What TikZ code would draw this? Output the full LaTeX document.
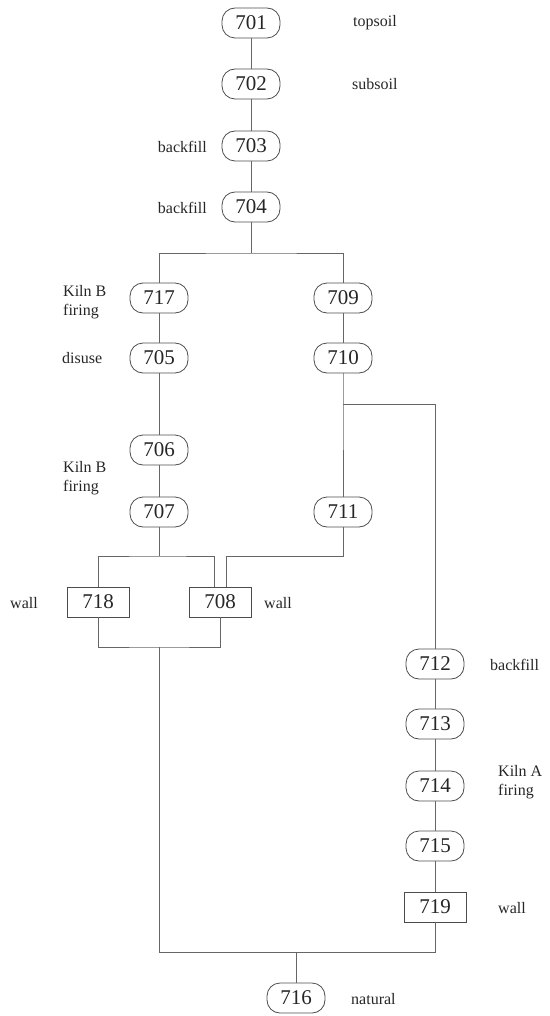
\documentclass[tikz,border=0pt]{standalone}
\usepackage{fontspec}
\setmainfont{Liberation Serif}
\begin{document}
\begin{tikzpicture}[x=1pt,y=-1pt,
  ctx/.style={draw=black!70, line width=0.8pt, rounded corners=13pt, minimum width=58pt, minimum height=30pt, inner sep=0pt, text=black!85, font=\fontsize{21}{24}\selectfont},
  wbox/.style={draw=black!70, line width=0.8pt, minimum width=62pt, minimum height=30pt, inner sep=0pt, text=black!85, font=\fontsize{21}{24}\selectfont},
  lab/.style={inner sep=0pt, text=black!85, align=left, font=\fontsize{16}{19}\selectfont},
  conn/.style={draw=black!60, line width=0.7pt}]
\useasboundingbox (0,0) rectangle (549,1016);
% nodes
\node[ctx] (n701) at (251,23) {701};
\node[ctx] (n702) at (251,84) {702};
\node[ctx] (n703) at (251,146) {703};
\node[ctx] (n704) at (251,207) {704};
\node[ctx] (n717) at (159,298) {717};
\node[ctx] (n709) at (343,298) {709};
\node[ctx] (n705) at (159,358) {705};
\node[ctx] (n710) at (343,358) {710};
\node[ctx] (n706) at (159,450) {706};
\node[ctx] (n707) at (159,512) {707};
\node[ctx] (n711) at (343,512) {711};
\node[wbox] (n718) at (98,602) {718};
\node[wbox] (n708) at (220,602) {708};
\node[ctx] (n712) at (435,664) {712};
\node[ctx] (n713) at (435,724) {713};
\node[ctx] (n714) at (435,786) {714};
\node[ctx] (n715) at (435,846) {715};
\node[wbox] (n719) at (435,907) {719};
\node[ctx] (n716) at (296,998) {716};
% labels
\node[lab, anchor=west] (l701) at (353,23) {topsoil};
\node[lab, anchor=west] (l702) at (352,84) {subsoil};
\node[lab, anchor=east] (l703) at (207,147) {backfill};
\node[lab, anchor=east] (l704) at (207,208) {backfill};
\node[lab, anchor=west] (l717) at (63,302) {Kiln B\\firing};
\node[lab, anchor=west] (l705) at (62,358) {disuse};
\node[lab, anchor=west] (l706) at (63,478) {Kiln B\\firing};
\node[lab, anchor=west] (l718) at (10,603) {wall};
\node[lab, anchor=west] (l708) at (264,603) {wall};
\node[lab, anchor=west] (l712) at (490,665) {backfill};
\node[lab, anchor=west] (l714) at (498,782) {Kiln A\\firing};
\node[lab, anchor=west] (l719) at (498,908) {wall};
\node[lab, anchor=west] (l716) at (351,999) {natural};
% junction coordinates
\coordinate (b1) at (251,253);
\coordinate (b2) at (343,404);
\coordinate (b3) at (159,556);
\coordinate (b4) at (343,556);
\coordinate (b5) at (159,647);
\coordinate (b6) at (296,952);
% connectors
\draw[conn] (n701) -- (n702);
\draw[conn] (n702) -- (n703);
\draw[conn] (n703) -- (n704);
\draw[conn] (n704) -- (b1);
\draw[conn] (n717.north) |- (b1) -| (n709.north);
\draw[conn] (n717) -- (n705);
\draw[conn] (n705) -- (n706);
\draw[conn] (n706) -- (n707);
\draw[conn] (n709) -- (n710);
\draw[conn] (n710) -- (b2) -- (n711);
\draw[conn] (b2) -| (n712.north);
\draw[conn] (n707) -- (b3);
\draw[conn] (n718.north) |- (b3) -| ([xshift=-6pt]n708.north);
\draw[conn] (n711) -- (b4) -| ([xshift=6pt]n708.north);
\draw[conn] (n718.south) |- (b5) -| (n708.south);
\draw[conn] (b5) |- (b6) -| (n719.south);
\draw[conn] (b6) -- (n716);
\draw[conn] (n712) -- (n713);
\draw[conn] (n713) -- (n714);
\draw[conn] (n714) -- (n715);
\draw[conn] (n715) -- (n719);
\end{tikzpicture}
\end{document}
